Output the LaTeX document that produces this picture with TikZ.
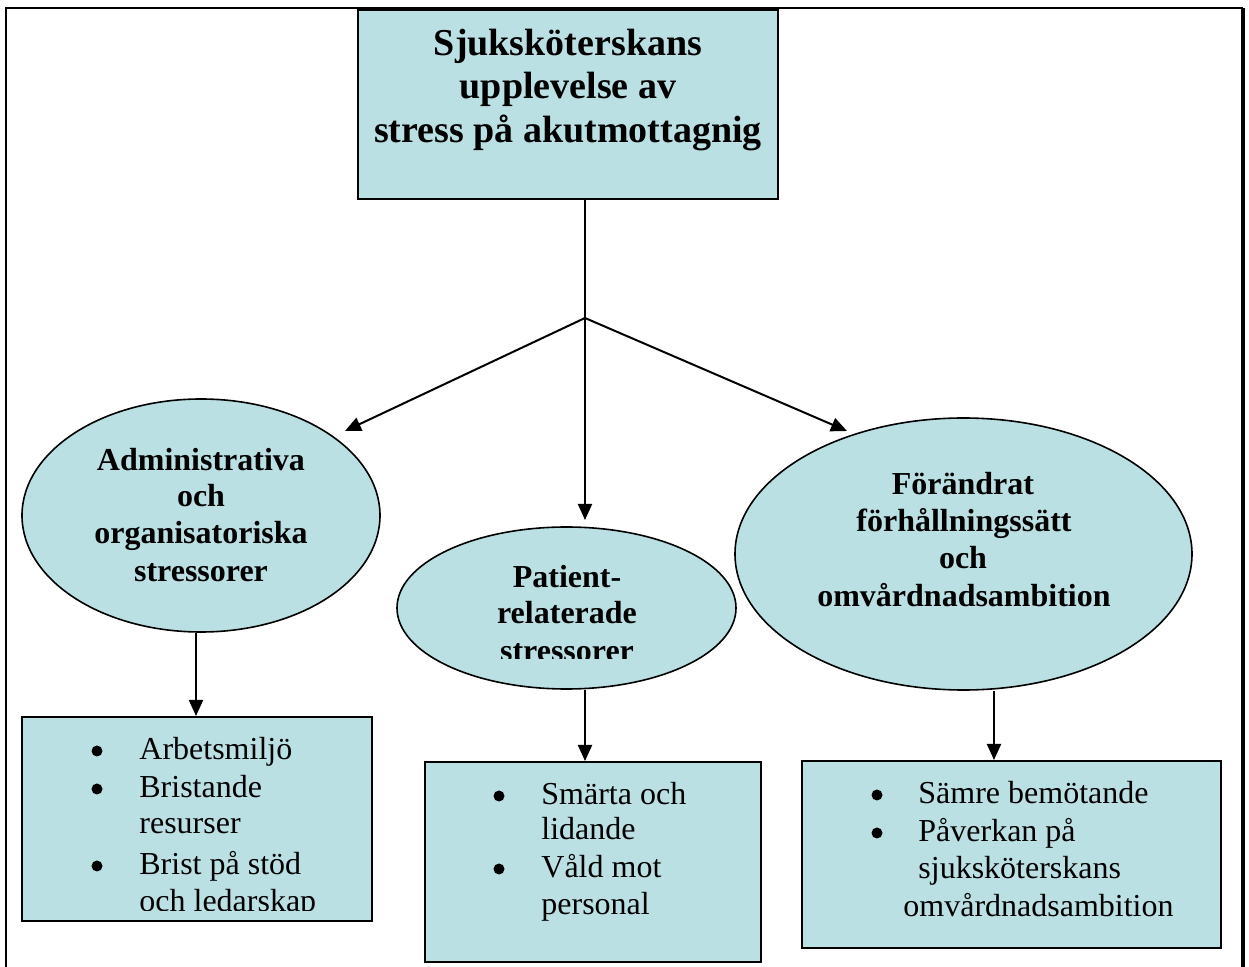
\documentclass[tikz,border=0pt]{standalone}
\usepackage{fontspec}
\setmainfont{Liberation Serif}
\usetikzlibrary{arrows.meta,shapes.geometric}
\definecolor{boxblue}{RGB}{187,224,227}
\tikzset{
  shapebox/.style={draw=black, line width=1pt, fill=boxblue, rectangle, inner sep=0pt},
  shapeell/.style={draw=black, line width=0.8pt, fill=boxblue, ellipse, inner sep=0pt},
  titletxt/.style={anchor=base, inner sep=0pt, font=\fontsize{19}{22}\selectfont\bfseries},
  elltxt/.style={anchor=base, inner sep=0pt, font=\fontsize{16}{18.5}\selectfont\bfseries},
  itemtxt/.style={anchor=base west, inner sep=0pt, font=\fontsize{16}{18.5}\selectfont},
  bul/.style={circle, fill=black, inner sep=0pt, minimum size=5.5pt},
  conn/.style={line width=1pt, -{Triangle[length=8pt,width=7pt]}},
  plainconn/.style={line width=1pt},
}
\begin{document}
\begin{tikzpicture}[x=0.5pt,y=-0.5pt]
\useasboundingbox (0,0) rectangle (1249,967);
\clip (0,0) rectangle (1249,967);
\fill[white] (0,0) rectangle (1249,967);
% outer frame
\draw[line width=1.1pt] (6,990) -- (6,8) -- (1243,8);
\draw[line width=2pt] (1243,8) -- (1243,990);

% shapes
\node[shapebox, minimum width=210pt, minimum height=94.5pt] (title) at (568,104.5) {};
\node[shapeell, minimum width=179pt, minimum height=116.5pt] (e1) at (201,515.5) {};
\node[shapeell, minimum width=169.5pt, minimum height=81pt] (e2) at (566.5,608) {};
\node[shapeell, minimum width=228.5pt, minimum height=136pt] (e3) at (963.5,554) {};
\node[shapebox, minimum width=175pt, minimum height=102pt] (b1) at (197,819) {};
\node[shapebox, minimum width=168pt, minimum height=100pt] (b2) at (593,862) {};
\node[shapebox, minimum width=209.5pt, minimum height=93.5pt] (b3) at (1011.5,854.5) {};

% title text
\node[titletxt] (t1) at (568,56) {Sjuksköterskans};
\node[titletxt] (t2) at (568,99) {upplevelse av};
\node[titletxt] (t3) at (568,143) {stress på akutmottagnig};

% ellipse 1 text
\node[elltxt] (e1a) at (201,471) {Administrativa};
\node[elltxt] (e1b) at (201,507) {och};
\node[elltxt] (e1c) at (201,544) {organisatoriska};
\node[elltxt] (e1d) at (201,582) {stressorer};

% ellipse 2 text (last line clipped)
\begin{scope}
\clip (380,520) rectangle (760,659);
\node[elltxt] (e2a) at (567,588) {Patient-};
\node[elltxt] (e2b) at (567,624) {relaterade};
\node[elltxt] (e2c) at (567,662) {stressorer};
\end{scope}

% ellipse 3 text
\node[elltxt] (e3a) at (963,495) {Förändrat};
\node[elltxt] (e3b) at (964,532) {förhållningssätt};
\node[elltxt] (e3c) at (963,569) {och};
\node[elltxt] (e3d) at (964,607) {omvårdnadsambition};

% box 1 text
\begin{scope}
\clip (20,715) rectangle (375,911);
\node[bul] (b1p1) at (97,751) {};
\node[itemtxt] (b1l1) at (139,760) {Arbetsmiljö};
\node[bul] (b1p2) at (97,789) {};
\node[itemtxt] (b1l2) at (139,798) {Bristande};
\node[itemtxt] (b1l3) at (139,834) {resurser};
\node[bul] (b1p3) at (97,866) {};
\node[itemtxt] (b1l4) at (139,875) {Brist på stöd};
\node[itemtxt] (b1l5) at (139,912) {och ledarskap};
\end{scope}

% box 2 text
\node[bul] (b2p1) at (499,796) {};
\node[itemtxt] (b2l1) at (541,805) {Smärta och};
\node[itemtxt] (b2l2) at (541,840) {lidande};
\node[bul] (b2p2) at (499,869) {};
\node[itemtxt] (b2l3) at (541,878) {Våld mot};
\node[itemtxt] (b2l4) at (541,915) {personal};

% box 3 text
\node[bul] (b3p1) at (877,795) {};
\node[itemtxt] (b3l1) at (918,804) {Sämre bemötande};
\node[bul] (b3p2) at (877,833) {};
\node[itemtxt] (b3l2) at (918,842) {Påverkan på};
\node[itemtxt] (b3l3) at (918,879) {sjuksköterskans};
\node[itemtxt] (b3l4) at (903,917) {omvårdnadsambition};

% connectors
\coordinate (mx) at (585,0);
\coordinate (J) at (585,318);
\coordinate (tipL) at (345,431);
\coordinate (tipM) at (585,520);
\coordinate (tipR) at (847,431);
\draw[plainconn] (mx |- title.south) -- (J);
\draw[conn] (J) -- (tipL);
\draw[conn] (J) -- (tipM);
\draw[conn] (J) -- (tipR);

\coordinate (x1) at (196,0);
\coordinate (x2) at (585,0);
\coordinate (x3) at (994,0);
\draw[conn] (x1 |- e1.south) -- (x1 |- b1.north);
\draw[conn] (x2 |- e2.south) -- (x2 |- b2.north);
\draw[conn] (x3 |- e3.south) -- (x3 |- b3.north);
\end{tikzpicture}
\end{document}
